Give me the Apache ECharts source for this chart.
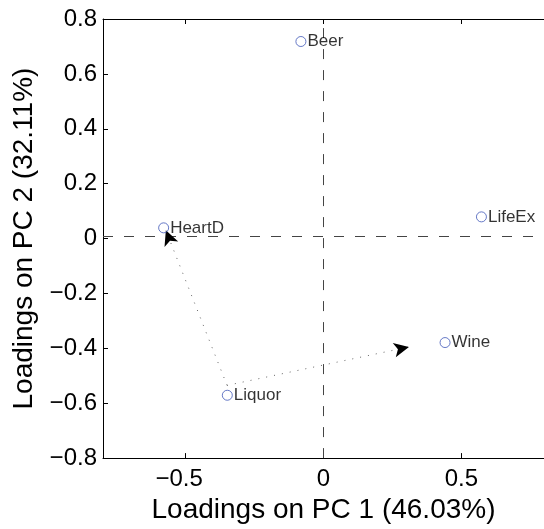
<!DOCTYPE html>
<html>
<head>
<meta charset="utf-8">
<script src="https://cdn.jsdelivr.net/npm/echarts@6/dist/echarts.min.js"></script>
<style>
  html, body { margin: 0; padding: 0; background: #fff; }
  #chart { width: 544px; height: 529px; }
</style>
</head>
<body>
<div id="chart"></div>
<script>
// Variable loadings on the first two principal components
const variables = ['Beer', 'LifeEx', 'HeartD', 'Wine', 'Liquor'];
const pc1 = [-0.082, 0.573, -0.580, 0.441, -0.349];
const pc2 = [0.718, 0.079, 0.039, -0.379, -0.571];

// Axis ticks
const xTicks = [-0.5, 0, 0.5];
const yTicks = [-0.8, -0.6, -0.4, -0.2, 0, 0.2, 0.4, 0.6, 0.8];

// Dashed reference cross
const crossX = 0;
const crossY = 0.01;

// Dotted arrow path: corner point and the two arrow tips
const pathCorner = [-0.350, -0.535];
const pathTips = [[-0.572, 0.030], [0.310, -0.395]];

const FONT = '"Liberation Sans", Arial, Helvetica, sans-serif';
const fmt = v => (Math.abs(v) < 1e-9 ? '0' : String(+v.toFixed(1)).replace('-', '\u2212'));
// negative x labels sit slightly left of their tick
const fmtX = v => (v < 0 ? '{neg|' + fmt(v) + '}' : fmt(v));

const chart = echarts.init(document.getElementById('chart'), null, { renderer: 'canvas' });

const axisLineStyle = { show: true, onZero: false, lineStyle: { color: '#000', width: 1 } };
const tickStyle = vals => ({ show: true, inside: true, length: 5, lineStyle: { color: '#000' }, customValues: vals });

chart.setOption({
  animation: false,
  backgroundColor: '#fff',
  grid: { left: 103, top: 19, width: 450, height: 448, containLabel: false },
  xAxis: [
    {
      type: 'value', min: -0.8, max: 0.8, position: 'bottom',
      axisLine: axisLineStyle,
      axisTick: tickStyle(xTicks),
      axisLabel: {
        show: true, customValues: xTicks, formatter: fmtX, color: '#000',
        fontFamily: FONT, fontSize: 24, margin: 9,
        rich: { neg: { fontFamily: FONT, fontSize: 24, color: '#000', padding: [0, 13, 0, 0] } }
      },
      splitLine: { show: false },
      name: 'Loadings on PC 1 (46.03%)', nameLocation: 'middle', nameGap: 33,
      nameTextStyle: { color: '#000', fontFamily: FONT, fontSize: 28 }
    },
    {
      type: 'value', min: -0.8, max: 0.8, position: 'top',
      axisLine: axisLineStyle,
      axisTick: tickStyle(xTicks),
      axisLabel: { show: false },
      splitLine: { show: false }
    }
  ],
  yAxis: {
    type: 'value', min: -0.8, max: 0.8, interval: 0.2,
    axisLine: axisLineStyle,
    axisTick: tickStyle(yTicks),
    axisLabel: { show: true, customValues: yTicks, formatter: fmt, color: '#000',
                 fontFamily: FONT, fontSize: 24, margin: 6 },
    splitLine: { show: false },
    name: 'Loadings on PC 2 (32.11%)', nameLocation: 'middle', nameGap: 65, nameRotate: 90,
    nameTextStyle: { color: '#000', fontFamily: FONT, fontSize: 28 }
  },
  series: [
    {
      // dashed cross through the origin
      type: 'line', data: [], silent: true,
      markLine: {
        silent: true, symbol: ['none', 'none'], animation: false,
        label: { show: false },
        lineStyle: { color: '#444', width: 1, type: [10, 11] },
        data: [
          [{ coord: [crossX, -0.8] }, { coord: [crossX, 0.8] }],
          [{ coord: [-0.8, crossY] }, { coord: [0.8, crossY] }]
        ]
      }
    },
    {
      // dotted path from the corner point to each tip
      type: 'line', data: [], silent: true,
      markLine: {
        silent: true, symbol: ['none', 'none'], animation: false,
        label: { show: false },
        lineStyle: { color: '#666', width: 1, type: [1, 7] },
        data: pathTips.map(t => [{ coord: pathCorner }, { coord: t }])
      }
    },
    {
      // black arrowheads at the tips
      type: 'line', data: [], silent: true,
      markLine: {
        silent: true, symbol: ['none', 'arrow'], symbolSize: [11, 15], animation: false,
        label: { show: false },
        lineStyle: { color: '#000', width: 0 },
        data: pathTips.map(t => [{ coord: pathCorner }, { coord: t }])
      }
    },
    {
      type: 'scatter',
      data: variables.map((n, i) => ({ name: n, value: [pc1[i], pc2[i]] })),
      symbol: 'circle', symbolSize: 10,
      itemStyle: { color: 'rgba(0,0,0,0)', borderColor: '#4058b8', borderWidth: 1 },
      label: {
        show: true, position: 'right', distance: 1, formatter: p => p.name,
        color: '#000', fontFamily: FONT, fontSize: 17
      },
      z: 5
    }
  ]
});
</script>
</body>
</html>
